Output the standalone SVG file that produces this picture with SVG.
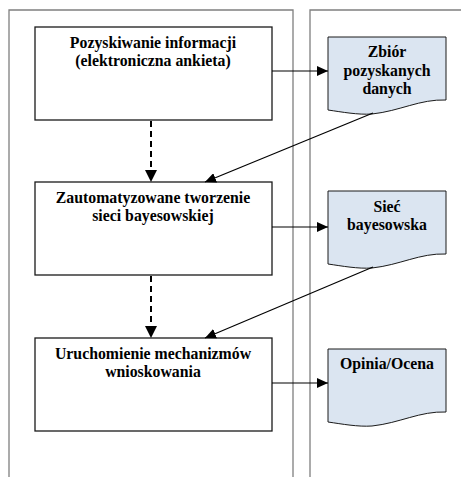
<svg xmlns="http://www.w3.org/2000/svg" width="461" height="477" viewBox="0 0 461 477">
<style>
.lane{fill:none;stroke:#7f7f7f;stroke-width:1.3}
.box{fill:#fff;stroke:#1a1a1a;stroke-width:1.3}
.doc{fill:#dbe5f1;stroke:#1a1a1a;stroke-width:1}
.t{font-weight:bold;font-size:15.8px;fill:#000;text-anchor:middle}
.c{fill:none;stroke:#000;stroke-width:1.2}
.d{fill:none;stroke:#000;stroke-width:2;stroke-dasharray:6,4}
</style>
<defs>
<marker id="ah" markerWidth="12" markerHeight="10" refX="11" refY="5" orient="auto" markerUnits="userSpaceOnUse">
<path d="M0,0 L11,5 L0,10 Z" fill="#000"/>
</marker>
<path id="docshape" d="M0,0 H118 V63 C92,62 72,74 44,77 C30,78 14,75 0,73 Z"/>
</defs>
<g id="lanes">
<path class="lane" d="M9,477 V10 H293 V477"/>
<path class="lane" d="M310,477 V10 H461"/>
</g>
<g font-family="'Liberation Serif', 'Times New Roman', serif">
<g id="box1">
<rect class="box" x="35" y="27" width="237" height="93"/>
<text class="t" x="153" y="48">Pozyskiwanie informacji</text>
<text class="t" x="153" y="66">(elektroniczna ankieta)</text>
</g>
<g id="box2">
<rect class="box" x="35" y="182" width="237" height="93"/>
<text class="t" x="153" y="203">Zautomatyzowane tworzenie</text>
<text class="t" x="153" y="221">sieci bayesowskiej</text>
</g>
<g id="box3">
<rect class="box" x="35" y="338" width="237" height="93"/>
<text class="t" x="153" y="359">Uruchomienie mechanizmów</text>
<text class="t" x="153" y="377">wnioskowania</text>
</g>
<g id="doc1">
<use href="#docshape" class="doc" x="328" y="37"/>
<text class="t" x="387" y="57">Zbiór</text>
<text class="t" x="387" y="76">pozyskanych</text>
<text class="t" x="387" y="94">danych</text>
</g>
<g id="doc2">
<use href="#docshape" class="doc" x="328" y="191"/>
<text class="t" x="387" y="212">Sieć</text>
<text class="t" x="387" y="230">bayesowska</text>
</g>
<g id="doc3">
<use href="#docshape" class="doc" x="328" y="349"/>
<text class="t" x="387" y="369">Opinia/Ocena</text>
</g>
</g>
<g id="connectors">
<path class="c" d="M272,71 H328" marker-end="url(#ah)"/>
<path class="c" d="M272,227 H328" marker-end="url(#ah)"/>
<path class="c" d="M272,383 H328" marker-end="url(#ah)"/>
<path class="d" d="M151,121 V172"/>
<path d="M145,170 L157,170 L151,182 Z" fill="#000"/>
<path class="d" d="M151,276 V328"/>
<path d="M145,326 L157,326 L151,338 Z" fill="#000"/>
<path class="c" d="M373,113 L205,182" marker-end="url(#ah)"/>
<path class="c" d="M373,267 L205,338" marker-end="url(#ah)"/>
</g>
</svg>
